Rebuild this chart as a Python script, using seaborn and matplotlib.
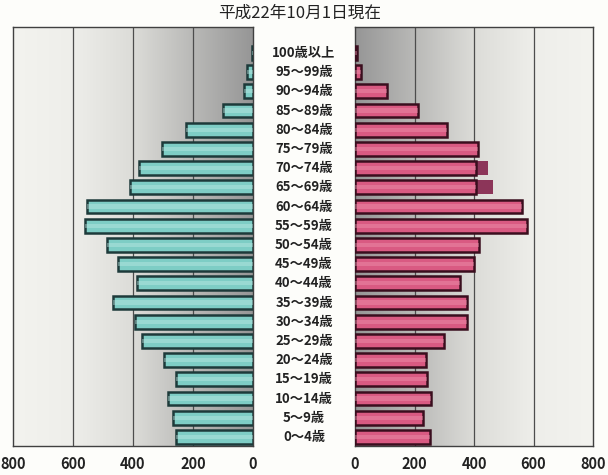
import numpy as np
import pandas as pd
import matplotlib
matplotlib.use("Agg")
import matplotlib.pyplot as plt
import matplotlib.transforms as mtransforms
from matplotlib.colors import LinearSegmentedColormap
import seaborn as sns

# Population by 5-year age group (persons)
age_groups = ["100歳以上", "95～99歳", "90～94歳", "85～89歳", "80～84歳",
              "75～79歳", "70～74歳", "65～69歳", "60～64歳", "55～59歳",
              "50～54歳", "45～49歳", "40～44歳", "35～39歳", "30～34歳",
              "25～29歳", "20～24歳", "15～19歳", "10～14歳", "5～9歳", "0～4歳"]
male = [5, 20, 30, 100, 225, 303, 380, 410, 553, 560, 487,
        450, 387, 467, 393, 370, 297, 257, 283, 267, 257]
female = [7, 20, 107, 213, 310, 413, 407, 407, 560, 577, 417,
          400, 353, 377, 377, 300, 240, 243, 257, 227, 253]
# Extended female bars shown in a darker shade
ext_groups = ["70～74歳", "65～69歳"]
female_ext = [447, 463]

title = "平成22年10月1日現在"
xticks = [0, 200, 400, 600, 800]

sns.set_theme(style="white")
plt.rcParams["font.family"] = ["Noto Sans CJK JP", "DejaVu Sans"]

df_m = pd.DataFrame({"age": age_groups, "value": male})
df_f = pd.DataFrame({"age": age_groups, "value": female})
df_e = pd.DataFrame({"age": ext_groups, "value": female_ext})

fig = plt.figure(figsize=(6.08, 4.75), dpi=100)
fig.patch.set_facecolor("#fdfdfa")

ax_m = fig.add_axes([13 / 608, 29 / 475, 240 / 608, 419 / 475])
ax_f = fig.add_axes([355 / 608, 29 / 475, 238 / 608, 419 / 475])

YLIM = (20.47, -1.35)
bg_cmap = LinearSegmentedColormap.from_list(
    "bg", ["#969696", "#b9b9b7", "#dcdcd8", "#eeeeea", "#f3f3ef"])
grad = np.linspace(0, 1, 256).reshape(1, -1)


def draw_panel(ax, data, face, edge, light, extra=None, extra_color=None):
    ax.imshow(grad, extent=[0, 800, YLIM[0], YLIM[1]], aspect="auto",
              cmap=bg_cmap, zorder=0, interpolation="bicubic")
    for v in (200, 400, 600):
        ax.axvline(v, color="#4d4d4d", lw=0.9, zorder=0.5)
    if extra is not None:
        sns.barplot(data=extra, x="value", y="age", order=age_groups,
                    orient="h", color=extra_color, saturation=1,
                    width=0.74, linewidth=0, errorbar=None, ax=ax, zorder=2)
    sns.barplot(data=data, x="value", y="age", order=age_groups,
                orient="h", color=face, saturation=1, width=0.72,
                edgecolor=edge, linewidth=1.8, errorbar=None, ax=ax, zorder=3)
    # lighter stripe for a rounded look
    sns.barplot(data=data, x="value", y="age", order=age_groups,
                orient="h", color=light, saturation=1, width=0.22,
                linewidth=0, errorbar=None, ax=ax, zorder=4, alpha=0.4)
    ax.set_ylim(*YLIM)
    ax.set_xticks(xticks)
    ax.set_xticklabels([str(t) for t in xticks], fontsize=10.5,
                       fontweight="bold", color="#222222")
    ax.tick_params(axis="x", length=0, pad=7)
    ax.set_yticks([])
    ax.set_xlabel("")
    ax.set_ylabel("")
    for s in ax.spines.values():
        s.set_color("#404040")
        s.set_linewidth(1.0)
        s.set_visible(True)


draw_panel(ax_m, df_m, "#7ecdc5", "#1d3a3a", "#c2ece8")
ax_m.set_xlim(800, 0)
draw_panel(ax_f, df_f, "#d95a82", "#3a0e1e", "#f09ab4",
           extra=df_e, extra_color="#8c3559")
ax_f.set_xlim(0, 800)

# Age labels between the two panels
trans = mtransforms.blended_transform_factory(fig.transFigure, ax_m.transData)
for i, lab in enumerate(age_groups):
    fig.text(304 / 608, i, lab, transform=trans, ha="center", va="center",
             fontsize=9.5, fontweight="bold", color="#222222")

fig.text(300 / 608, 1 - 13 / 475, title, ha="center", va="center",
         fontsize=12, color="#222222")

fig.savefig("out.png", dpi=100, facecolor=fig.get_facecolor())
